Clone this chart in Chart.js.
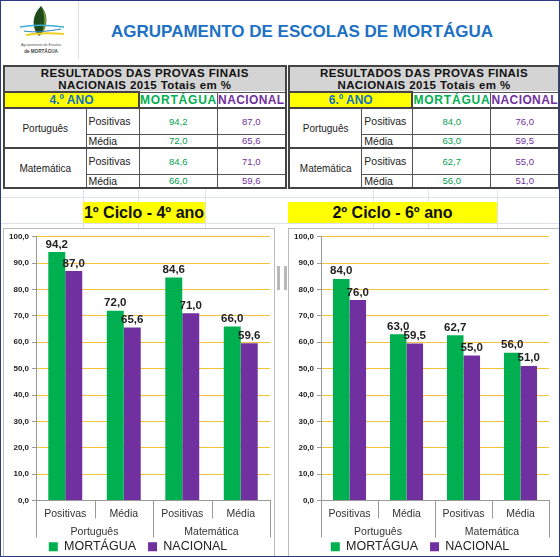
<!DOCTYPE html>
<html>
<head>
<meta charset="utf-8">
<script src="https://cdn.jsdelivr.net/npm/chart.js@4.4.1/dist/chart.umd.min.js"></script>
<style>
  html, body { margin: 0; padding: 0; }
  body { width: 560px; height: 557px; position: relative; overflow: hidden; background: #fff; font-family: 'Liberation Sans', Arial, sans-serif; }
  .frame { position: absolute; left: 0; top: 0; width: 558px; height: 555px; border: 1px solid #2b3a86; pointer-events: none; z-index: 10; }
  .gl { position: absolute; background: #dde2ea; }
  .header { position: absolute; left: 1px; top: 1px; width: 558px; height: 58px; }
  .title { position: absolute; left: 78px; top: 21px; width: 446px; text-align: center; font-weight: bold; font-size: 17px; color: #2070c4; }
  table.res { position: absolute; top: 65px; border-collapse: collapse; table-layout: fixed; border: 2px solid #444; font-size: 9px; }
  table.res td { border: 1px solid #555; padding: 0; text-align: center; overflow: hidden; white-space: nowrap; }
  table.res td.hd { background: #d4d4d4; font-weight: bold; font-size: 11.5px; letter-spacing: 0.4px; line-height: 12px; color: #111; }
  table.res td.ano { background: #ffff00; color: #1070c0; font-weight: bold; font-size: 12px; border: 2px solid #444; }
  table.res td.cm { color: #00b050; font-weight: bold; font-size: 12px; letter-spacing: 0.8px; text-align: left; }
  table.res td.cn { color: #7030a0; font-weight: bold; font-size: 12px; letter-spacing: 0.4px; text-align: left; }
  table.res td.subj { font-size: 10px; color: #222; }
  table.res td.meas { text-align: left; font-size: 10.5px; color: #222; padding-left: 2px; }
  table.res td.vm { color: #00a050; font-size: 9.5px; }
  table.res td.vn { color: #7030a0; font-size: 9.5px; }
  table.res tr.blk td { border-top: 2px solid #444; }
  .ciclo { position: absolute; top: 202px; height: 21px; background: #ffff00; font-weight: bold; font-size: 16px; line-height: 21px; text-align: center; color: #111; white-space: nowrap; }
  .chartbox { position: absolute; top: 228px; height: 329px; border: 1px solid #bbb; border-bottom: none; background: #fff; overflow: hidden; }
  .chartbox canvas { position: absolute; left: 0; top: 0; }
  .handle { position: absolute; background: #b8b8b8; width: 3px; height: 24px; top: 266px; }
</style>
</head>
<body>
<div class="header">
  <svg width="76" height="57" style="position:absolute;left:2px;top:0">
    <path d="M38 5 C29 14 28 27 36 35 C45 28 46 14 38 5 Z" fill="#1f4a1c"/>
    <path d="M38 5 C45 14 45 27 37 35 C42 27 43 15 38 5 Z" fill="#7a9a34"/>
    <path d="M17 26 C28 24 46 24 61 26" stroke="#3cb0d8" stroke-width="1.5" fill="none"/>
    <path d="M21 30 C32 32 46 30 58 28" stroke="#2a7fc0" stroke-width="1" fill="none"/>
    <path d="M23 34 C34 32 48 32 61 33" stroke="#f0d020" stroke-width="2" fill="none"/>
    <text x="38" y="45" font-size="3.6" text-anchor="middle" fill="#555" font-family="Liberation Sans, Arial">Agrupamento de Escolas</text>
    <text x="38" y="52" font-size="4.6" text-anchor="middle" fill="#444" font-weight="bold" font-family="Liberation Sans, Arial">de MORTÁGUA</text>
  </svg>
  <div class="gl" style="left:77px;top:0;width:1px;height:58px"></div>
  <div class="title">AGRUPAMENTO DE ESCOLAS DE MORTÁGUA</div>
</div>

<div class="gl" style="left:0;top:197px;width:560px;height:1px"></div>
<div class="gl" style="left:0;top:223px;width:560px;height:1px"></div>
<div class="gl" style="left:83px;top:190px;width:1px;height:38px"></div>
<div class="gl" style="left:138px;top:190px;width:1px;height:38px"></div>
<div class="gl" style="left:205px;top:190px;width:1px;height:38px"></div>
<div class="gl" style="left:373px;top:190px;width:1px;height:38px"></div>
<div class="gl" style="left:428px;top:190px;width:1px;height:38px"></div>
<div class="gl" style="left:497px;top:190px;width:1px;height:38px"></div>

<table class="res" id="tab4" style="left:3px"></table>
<table class="res" id="tab6" style="left:288px"></table>

<div class="ciclo" style="left:83px;width:122px">1º Ciclo - 4º ano</div>
<div class="ciclo" style="left:288px;width:209px">2º Ciclo - 6º ano</div>

<div class="chartbox" style="left:3px;width:270px"><canvas id="chart4" width="270" height="334"></canvas></div>
<div class="chartbox" style="left:288px;width:272px"><canvas id="chart6" width="272" height="334"></canvas></div>

<div class="handle" style="left:277px"></div>
<div class="handle" style="left:284px"></div>
<div class="frame"></div>

<script>
const subjects = ['Português', 'Matemática'];
const measures = ['Positivas', 'Média'];
const categories = ['Positivas', 'Média', 'Positivas', 'Média'];
const seriesNames = ['MORTÁGUA', 'NACIONAL'];
const mortagua4 = [94.2, 72.0, 84.6, 66.0];
const nacional4 = [87.0, 65.6, 71.0, 59.6];
const mortagua6 = [84.0, 63.0, 62.7, 56.0];
const nacional6 = [76.0, 59.5, 55.0, 51.0];
const yTicks = [0, 10, 20, 30, 40, 50, 60, 70, 80, 90, 100];

const green = '#00b050';
const purple = '#7030a0';
const font = "'Liberation Sans', Arial, sans-serif";

function fmt(v) {
  return v.toFixed(1).replace('.', ',');
}

// tables above the charts, built from the same arrays
function buildTable(id, anoLabel, mort, nac, widths) {
  const t = document.getElementById(id);
  let html = '<colgroup>' + widths.map(w => '<col style="width:' + w + 'px">').join('') + '</colgroup>';
  html += '<tr style="height:25px"><td class="hd" colspan="4">RESULTADOS DAS PROVAS FINAIS<br>NACIONAIS 2015 Totais em %</td></tr>';
  html += '<tr style="height:16px"><td class="ano" colspan="2">' + anoLabel + '</td>' +
          '<td class="cm">' + seriesNames[0] + '</td><td class="cn">' + seriesNames[1] + '</td></tr>';
  subjects.forEach((s, si) => {
    measures.forEach((m, mi) => {
      const k = si * measures.length + mi;
      const h = mi === 0 ? 26 : 14;
      html += '<tr style="height:' + h + 'px"' + (mi === 0 ? ' class="blk"' : '') + '>';
      if (mi === 0) html += '<td class="subj" rowspan="' + measures.length + '">' + s + '</td>';
      html += '<td class="meas">' + m + '</td><td class="vm">' + fmt(mort[k]) + '</td><td class="vn">' + fmt(nac[k]) + '</td></tr>';
    });
  });
  t.innerHTML = html;
}

buildTable('tab4', '4.º ANO', mortagua4, nacional4, [82, 53, 67, 67]);
buildTable('tab6', '6.º ANO', mortagua6, nacional6, [85, 54, 68, 68]);

// value labels above the bars
const valueLabels = {
  id: 'valueLabels',
  afterDatasetsDraw(chart) {
    const ctx = chart.ctx;
    ctx.save();
    ctx.font = 'bold 11.5px ' + font;
    ctx.fillStyle = '#222';
    ctx.textAlign = 'center';
    ctx.textBaseline = 'bottom';
    chart.data.datasets.forEach((ds, i) => {
      chart.getDatasetMeta(i).data.forEach((bar, j) => {
        ctx.fillText(fmt(ds.data[j]), bar.x, bar.y - 2);
      });
    });
    ctx.restore();
  }
};

// second level of the category axis: separators + subject names
const groupAxis = {
  id: 'groupAxis',
  afterDraw(chart) {
    const xs = chart.scales.x;
    const step = xs.getPixelForValue(1) - xs.getPixelForValue(0);
    const n = measures.length;
    const ctx = chart.ctx;
    ctx.save();
    ctx.strokeStyle = '#999';
    ctx.lineWidth = 1;
    for (let i = 0; i <= categories.length; i++) {
      const px = Math.round(xs.getPixelForValue(0) - step / 2 + i * step) + 0.5;
      const long = i % n === 0;
      ctx.beginPath();
      ctx.moveTo(px, xs.top);
      ctx.lineTo(px, xs.top + (long ? 37 : 18));
      ctx.stroke();
    }
    ctx.font = '10.5px ' + font;
    ctx.fillStyle = '#333';
    ctx.textAlign = 'center';
    ctx.textBaseline = 'middle';
    subjects.forEach((s, si) => {
      const cx = (xs.getPixelForValue(si * n) + xs.getPixelForValue(si * n + n - 1)) / 2;
      ctx.fillText(s, cx, xs.top + 32);
    });
    ctx.restore();
  }
};

function renderBarChart(canvasId, mort, nac, rightPad) {
  const ctx = document.getElementById(canvasId).getContext('2d');
  return new Chart(ctx, {
    type: 'bar',
    data: {
      labels: categories,
      datasets: [
        { label: seriesNames[0], data: mort, backgroundColor: green },
        { label: seriesNames[1], data: nac, backgroundColor: purple }
      ]
    },
    options: {
      responsive: false,
      animation: false,
      categoryPercentage: 0.58,
      barPercentage: 1,
      layout: { padding: { left: 2, right: rightPad, top: 6, bottom: 0 } },
      plugins: {
        legend: {
          position: 'bottom',
          labels: { boxWidth: 9, boxHeight: 9, padding: 12, color: '#222', font: { family: font, size: 12.5 } }
        },
        tooltip: { enabled: false }
      },
      scales: {
        y: {
          min: yTicks[0],
          max: yTicks[yTicks.length - 1],
          afterBuildTicks: axis => { axis.ticks = yTicks.map(v => ({ value: v })); },
          ticks: { callback: v => fmt(v), color: '#222', padding: 3, font: { family: font, size: 8, weight: 'bold' } },
          grid: { color: '#f5c23c', tickColor: '#999', tickLength: 4 },
          border: { color: '#999' }
        },
        x: {
          position: 'bottom',
          grid: { display: false, drawTicks: false },
          border: { color: '#999' },
          ticks: { color: '#333', padding: 7, font: { family: font, size: 10.5 } },
          afterFit: s => { s.height = 28; }
        }
      }
    },
    plugins: [valueLabels, groupAxis]
  });
}

renderBarChart('chart4', mortagua4, nacional4, 4);
renderBarChart('chart6', mortagua6, nacional6, 12);
</script>
</body>
</html>
